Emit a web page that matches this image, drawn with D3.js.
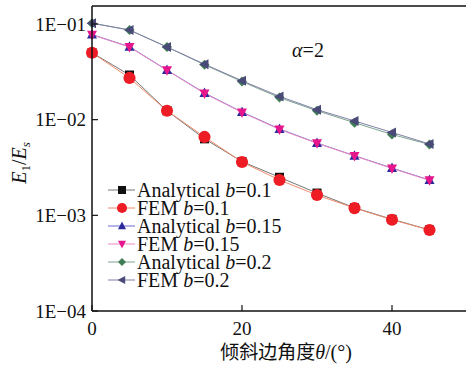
<!DOCTYPE html>
<html>
<head>
<meta charset="utf-8">
<script src="https://cdn.jsdelivr.net/npm/d3@7"></script>
<style>
  body { margin: 0; background: #fff; }
  text { font-family: "Liberation Serif", "Times New Roman", serif; fill: #111; }
</style>
</head>
<body>
<div id="chart"></div>
<script>
// tilt angle vs E1/Es, alpha = 2

const angles = [0, 5, 10, 15, 20, 25, 30, 35, 40, 45];

const anaB01 = [0.0501, 0.0293, 0.0124, 0.0063, 0.00365, 0.0025, 0.00171, 0.00120, 0.00091, 0.000705];
const femB01 = [0.0501, 0.0273, 0.0124, 0.0066, 0.00361, 0.00234, 0.00163, 0.00119, 0.00090, 0.000703];
const anaB015 = [0.0775, 0.0578, 0.0330, 0.0190, 0.0120, 0.0080, 0.00570, 0.00420, 0.00312, 0.00234];
const femB015 = [0.0770, 0.0573, 0.0328, 0.0188, 0.0119, 0.0079, 0.00566, 0.00418, 0.00309, 0.00232];
const anaB02 = [0.102, 0.0865, 0.0575, 0.0375, 0.0250, 0.0170, 0.0124, 0.0093, 0.0070, 0.00550];
const femB02 = [0.102, 0.0865, 0.0575, 0.0380, 0.0255, 0.0175, 0.0127, 0.0097, 0.00735, 0.00557];

const yTicks = [1e-4, 1e-3, 1e-2, 1e-1];
const yTickLabels = ["1E\u221204", "1E\u221203", "1E\u221202", "1E\u221201"];
const xTicks = [0, 20, 40];

const series = [
    { name: "Analytical", b: "0.1", values: anaB01, shape: "square", fill: "#111111", line: "#777777" },
    { name: "FEM", b: "0.1", values: femB01, shape: "circle", fill: "#ee1c24", line: "#f08a6a" },
    { name: "Analytical", b: "0.15", values: anaB015, shape: "triangle", fill: "#2a2a9a", line: "#6a6ad0" },
    { name: "FEM", b: "0.15", values: femB015, shape: "down", fill: "#e8168c", line: "#f28cc4" },
    { name: "Analytical", b: "0.2", values: anaB02, shape: "diamond", fill: "#3f7d55", line: "#7fa48e" },
    { name: "FEM", b: "0.2", values: femB02, shape: "left", fill: "#4a4a78", line: "#8080a8" }
];

const width = 466, height = 365;
const plot = { left: 92, right: 467, top: 6, bottom: 311 };

const svg = d3.select("#chart").append("svg")
    .attr("width", width)
    .attr("height", height);

const x = d3.scaleLinear().domain([0, 50]).range([plot.left, plot.right]);
const y = d3.scaleLog().domain([1e-4, Math.pow(10, -0.812)]).range([plot.bottom, plot.top]);

function markerPath(shape, s) {
    const h = s / 2;
    if (shape === "square") return `M${-h},${-h}H${h}V${h}H${-h}Z`;
    if (shape === "circle") return d3.symbol(d3.symbolCircle, s * s * 0.8)();
    if (shape === "triangle") return `M0,${-h * 1.1}L${h},${h * 0.8}L${-h},${h * 0.8}Z`;
    if (shape === "down") return `M0,${h * 1.1}L${h},${-h * 0.8}L${-h},${-h * 0.8}Z`;
    if (shape === "diamond") return `M0,${-h}L${h},0L0,${h}L${-h},0Z`;
    if (shape === "left") return `M${-h * 1.1},0L${h * 0.8},${-h}L${h * 0.8},${h}Z`;
}

const line = d3.line()
    .x((d, i) => x(angles[i]))
    .y(d => y(d));

const gSeries = svg.append("g");
series.forEach(s => {
    gSeries.append("path")
        .attr("d", line(s.values))
        .attr("fill", "none")
        .attr("stroke", s.line)
        .attr("stroke-width", 1);
});
series.forEach(s => {
    const size = s.shape === "circle" ? 12 : (s.shape === "square" ? 9 : 10);
    gSeries.selectAll(null)
        .data(s.values)
        .enter()
        .append("path")
        .attr("transform", (d, i) => `translate(${x(angles[i])},${y(d)})`)
        .attr("d", markerPath(s.shape, size))
        .attr("fill", s.fill);
});

// axes frame
svg.append("line")
    .attr("x1", plot.left).attr("x2", plot.left)
    .attr("y1", plot.top).attr("y2", plot.bottom)
    .attr("stroke", "#111").attr("stroke-width", 1.5);
svg.append("line")
    .attr("x1", plot.left).attr("x2", width)
    .attr("y1", plot.bottom).attr("y2", plot.bottom)
    .attr("stroke", "#111").attr("stroke-width", 1.5);
svg.append("line")
    .attr("x1", plot.left).attr("x2", width)
    .attr("y1", plot.top).attr("y2", plot.top)
    .attr("stroke", "#111").attr("stroke-width", 1.5);

// y ticks
const gy = svg.append("g");
gy.selectAll("line")
    .data(yTicks)
    .enter()
    .append("line")
    .attr("x1", plot.left).attr("x2", plot.left + 6)
    .attr("y1", d => y(d)).attr("y2", d => y(d))
    .attr("stroke", "#111").attr("stroke-width", 1.2);
gy.selectAll("text")
    .data(yTicks)
    .enter()
    .append("text")
    .attr("x", plot.left - 6)
    .attr("y", d => y(d))
    .attr("dy", "0.35em")
    .attr("text-anchor", "end")
    .style("font-size", "19px")
    .text((d, i) => yTickLabels[i]);

// x ticks
const gx = svg.append("g");
gx.selectAll("line")
    .data(xTicks)
    .enter()
    .append("line")
    .attr("x1", d => x(d)).attr("x2", d => x(d))
    .attr("y1", plot.bottom).attr("y2", plot.bottom - 6)
    .attr("stroke", "#111").attr("stroke-width", 1.2);
gx.selectAll("text")
    .data(xTicks)
    .enter()
    .append("text")
    .attr("x", d => x(d))
    .attr("y", plot.bottom + 24)
    .attr("text-anchor", "middle")
    .style("font-size", "19px")
    .text(d => d);

// axis titles
const yTitle = svg.append("text")
    .attr("transform", "translate(26,163) rotate(-90)")
    .attr("text-anchor", "middle")
    .style("font-size", "20px");
yTitle.append("tspan").style("font-style", "italic").text("E");
yTitle.append("tspan").attr("dy", 4).style("font-size", "13px").text("1");
yTitle.append("tspan").attr("dy", -4).text("/");
yTitle.append("tspan").style("font-style", "italic").text("E");
yTitle.append("tspan").attr("dy", 4).style("font-size", "13px").style("font-style", "italic").text("s");

const xTitle = svg.append("text")
    .attr("x", 286)
    .attr("y", 359)
    .attr("text-anchor", "middle")
    .style("font-size", "20px");
xTitle.append("tspan").style("font-family", "'Noto Sans CJK SC'").style("font-size", "19px").text("倾斜边角度");
xTitle.append("tspan").style("font-style", "italic").text("θ");
xTitle.append("tspan").text("/(°)");

const alpha = svg.append("text")
    .attr("x", 308)
    .attr("y", 57)
    .attr("text-anchor", "middle")
    .style("font-size", "20px");
alpha.append("tspan").style("font-style", "italic").text("α");
alpha.append("tspan").text("=2");

// legend
const legend = svg.append("g").attr("transform", "translate(108,190)");
series.forEach((s, i) => {
    const row = legend.append("g").attr("transform", `translate(0,${i * 18})`);
    row.append("line")
        .attr("x1", 0).attr("x2", 27)
        .attr("stroke", s.line).attr("stroke-width", 1);
    row.append("path")
        .attr("transform", "translate(14,0)")
        .attr("d", markerPath(s.shape, s.shape === "circle" ? 10 : 8))
        .attr("fill", s.fill);
    const t = row.append("text")
        .attr("x", 29)
        .attr("dy", "0.35em")
        .style("font-size", "20px");
    t.append("tspan").text(s.name + " ");
    t.append("tspan").style("font-style", "italic").text("b");
    t.append("tspan").text("=" + s.b);
});
</script>
</body>
</html>
